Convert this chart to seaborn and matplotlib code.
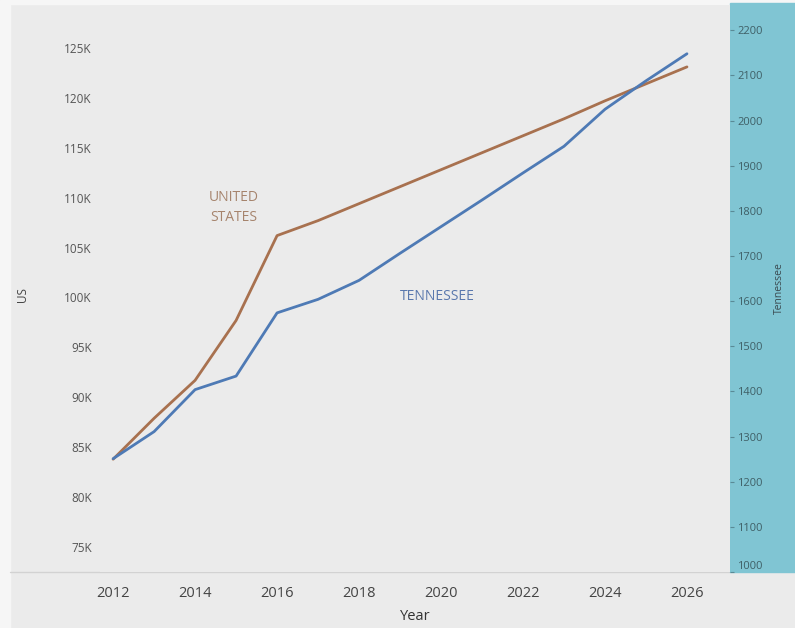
import matplotlib
matplotlib.use("Agg")
import matplotlib.pyplot as plt
from matplotlib.patches import Rectangle
from matplotlib.ticker import FuncFormatter
import pandas as pd
import seaborn as sns

years = list(range(2012, 2027))
us_values = [83800, 87900, 91700, 97700, 106200, 107700, 109400, 111100,
             112800, 114500, 116200, 117900, 119700, 121400, 123100]
tn_values = [1251, 1311, 1404, 1434, 1574, 1604, 1646, 1706, 1765,
             1824, 1884, 1943, 2025, 2088, 2148]
us_ticks = [75000, 80000, 85000, 90000, 95000, 100000, 105000, 110000, 115000, 120000, 125000]
tn_ticks = [1000, 1100, 1200, 1300, 1400, 1500, 1600, 1700, 1800, 1900, 2000, 2100, 2200]
x_ticks = [2012, 2014, 2016, 2018, 2020, 2022, 2024, 2026]

df = pd.DataFrame({"Year": years, "US": us_values, "Tennessee": tn_values})

sns.set_style("white")
plt.rcParams["font.family"] = ["Open Sans", "DejaVu Sans"]

BG = "#ebebeb"
US_COLOR = "#a8714f"
TN_COLOR = "#4e7ab5"
PANEL = "#80c5d3"

W, H = 795, 628
fig = plt.figure(figsize=(W / 100, H / 100), dpi=100, facecolor=BG)

# light border on top/left like the screenshot
fig.patches.append(Rectangle((0, 0), 10 / W, 1, transform=fig.transFigure, color="#f6f6f6", zorder=-2))
fig.patches.append(Rectangle((0, 1 - 4 / H), 1, 4 / H, transform=fig.transFigure, color="#f6f6f6", zorder=-2))
# teal panel behind the right axis
fig.patches.append(Rectangle((730 / W, 56 / H), 65 / W, (572 - 3) / H, transform=fig.transFigure,
                             color=PANEL, zorder=-1))
# bottom axis rule
fig.add_artist(plt.Line2D([10 / W, 730 / W], [56 / H, 56 / H], transform=fig.transFigure,
                          color="#d2d2d2", lw=1, zorder=-1))

ax = fig.add_axes([100 / W, 56 / H, 630 / W, 567 / H])
ax.set_facecolor(BG)
for s in ax.spines.values():
    s.set_visible(False)

sns.lineplot(data=df, x="Year", y="US", ax=ax, color=US_COLOR, linewidth=2, zorder=3)
ax.set_xlim(2011.68, 2027.05)
ax.set_ylim(72500, 129300)
ax.set_yticks(us_ticks)
ax.yaxis.set_major_formatter(FuncFormatter(lambda v, p: f"{int(v / 1000)}K"))
ax.set_xticks(x_ticks)
ax.tick_params(axis="y", length=0, pad=6, labelsize=8.5, labelcolor="#555555")
ax.tick_params(axis="x", length=0, pad=10, labelsize=10.5, labelcolor="#444444")
ax.set_xlabel("Year", fontsize=10.5, color="#333333", labelpad=6)
ax.set_ylabel("US", fontsize=8.5, color="#444444")
ax.yaxis.set_label_coords(-71 / 630, 0.49)

ax2 = ax.twinx()
sns.lineplot(data=df, x="Year", y="Tennessee", ax=ax2, color=TN_COLOR, linewidth=2, zorder=3)
for s in ax2.spines.values():
    s.set_visible(False)
ax2.set_ylim(1003, 2256)
ax2.set_yticks(tn_ticks)
ax2.tick_params(axis="y", length=3, width=0.8, color="#5a8a96", pad=2, labelsize=8,
                labelcolor="#3f5f66")
ax2.set_ylabel("Tennessee", fontsize=7.5, color="#3a4a50", labelpad=8)
for lab in ax2.get_yticklabels():
    if lab.get_text() == "1000":
        lab.set_va("bottom")

ax.text(2014.95, 109000, "UNITED\nSTATES", color="#a6846d", fontsize=10, ha="center",
        va="center", linespacing=1.5)
ax.text(2019.9, 100050, "TENNESSEE", color="#5a78ad", fontsize=10, ha="center", va="center")

fig.savefig("out.png", dpi=100, facecolor=BG)
